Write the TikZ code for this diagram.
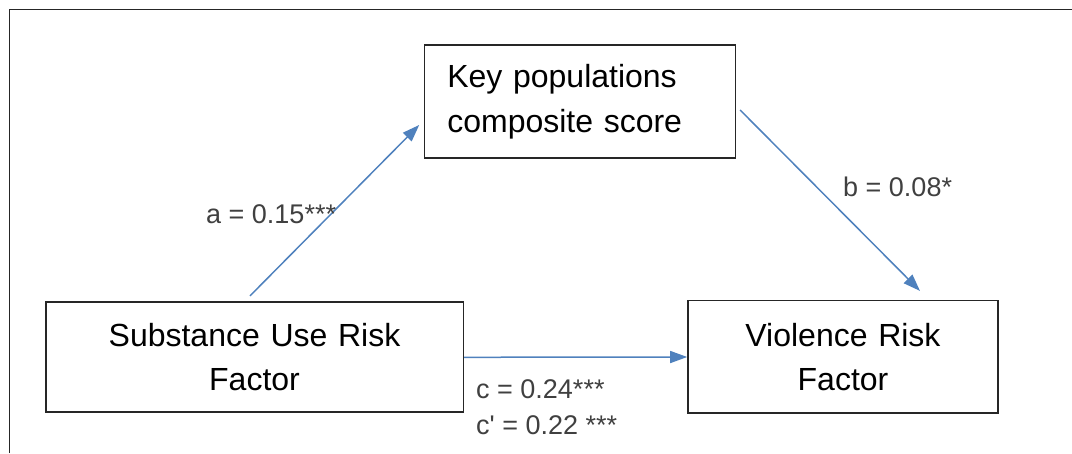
\documentclass[tikz,border=0pt]{standalone}
\usepackage{fontspec}
\setmainfont{Liberation Sans}
\usetikzlibrary{arrows.meta}
\definecolor{pathblue}{RGB}{79,129,189}
\definecolor{boxgray}{RGB}{38,38,38}
\definecolor{labelgray}{RGB}{64,64,64}
\tikzset{
  varbox/.style={draw=boxgray,line width=1.6pt,inner sep=0pt,text=black,
    font=\fontsize{32}{44.5}\selectfont},
  pathline/.style={draw=pathblue,line width=1.5pt,-{Triangle[length=17pt,width=12pt]}},
  coeflabel/.style={anchor=base west,inner sep=0pt,text=labelgray,
    font=\fontsize{27}{32}\selectfont}
}
\begin{document}
\begin{tikzpicture}[x=1pt,y=1pt]
\useasboundingbox (0,0) rectangle (1072,453);
\draw [boxgray,line width=1.4pt] (9.5,0) -- (9.5,443.5) -- (1072,443.5) ;

\node [varbox,minimum width=311pt,minimum height=113pt,text width=265pt,align=left] (keypop) at (579.8,351.3) {Key populations\\composite score};
\node [varbox,minimum width=417.6pt,minimum height=110pt,text width=380pt,align=center] (subuse) at (254.5,95.7) {Substance Use Risk\\Factor};
\node [varbox,minimum width=310pt,minimum height=112.6pt,text width=280pt,align=center] (violence) at (843,96) {Violence Risk\\Factor};

\draw [pathline] ([shift={(-4.5,5.6)}]subuse.north) -- ([shift={(-4.3,-23.3)}]keypop.west) ;
\draw [pathline] ([shift={(4,-8.3)}]keypop.east) -- ([shift={(77,9)}]violence.north) ;
\draw [pathline] (subuse.east) -- (violence.west) ;

\node [coeflabel] (alabel) at (206,229.7) {a = 0.15***};
\node [coeflabel] (blabel) at (843,256.3) {b = 0.08*};
\node [coeflabel] (clabel) at (476,54) {c = 0.24***};
\node [coeflabel] (cplabel) at (476,19) {c\textquotesingle{} = 0.22 ***};
\end{tikzpicture}
\end{document}
